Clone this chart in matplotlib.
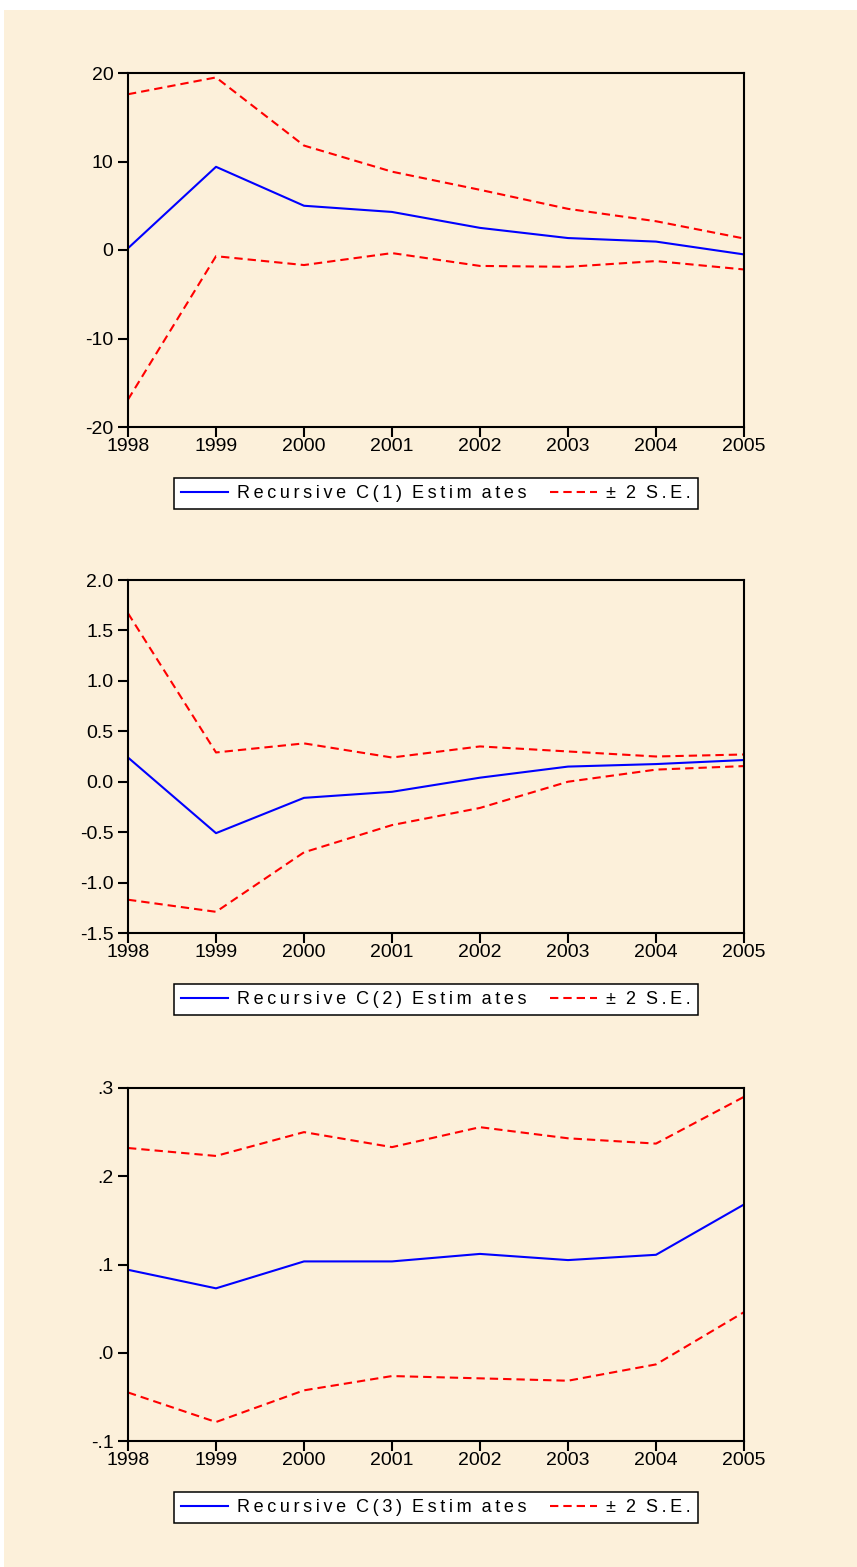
import matplotlib
matplotlib.use("Agg")
import matplotlib.pyplot as plt
from matplotlib.patches import Rectangle
from matplotlib.ticker import FixedLocator, FixedFormatter

years = [1998, 1999, 2000, 2001, 2002, 2003, 2004, 2005]

c1_est = [0.2, 9.4, 5.0, 4.3, 2.5, 1.35, 0.95, -0.5]
c1_up = [17.6, 19.5, 11.8, 8.85, 6.8, 4.65, 3.25, 1.3]
c1_lo = [-16.9, -0.7, -1.7, -0.35, -1.8, -1.9, -1.25, -2.2]

c2_est = [0.24, -0.51, -0.16, -0.10, 0.04, 0.15, 0.175, 0.215]
c2_up = [1.67, 0.29, 0.38, 0.24, 0.35, 0.30, 0.25, 0.27]
c2_lo = [-1.17, -1.29, -0.70, -0.43, -0.26, 0.0, 0.12, 0.155]

c3_est = [0.094, 0.073, 0.1035, 0.1035, 0.112, 0.105, 0.111, 0.168]
c3_up = [0.232, 0.223, 0.250, 0.233, 0.2556, 0.243, 0.237, 0.290]
c3_lo = [-0.045, -0.0785, -0.0426, -0.0264, -0.029, -0.0317, -0.0132, 0.046]

panels = [
    dict(est=c1_est, up=c1_up, lo=c1_lo, ylim=(-20, 20),
         yticks=[-20, -10, 0, 10, 20], ylabels=["-20", "-10", "0", "10", "20"],
         name="C(1)"),
    dict(est=c2_est, up=c2_up, lo=c2_lo, ylim=(-1.5, 2.0),
         yticks=[-1.5, -1.0, -0.5, 0.0, 0.5, 1.0, 1.5, 2.0],
         ylabels=["-1.5", "-1.0", "-0.5", "0.0", "0.5", "1.0", "1.5", "2.0"],
         name="C(2)"),
    dict(est=c3_est, up=c3_up, lo=c3_lo, ylim=(-0.1, 0.3),
         yticks=[-0.1, 0.0, 0.1, 0.2, 0.3], ylabels=["-.1", ".0", ".1", ".2", ".3"],
         name="C(3)"),
]

W, H = 857, 1567
fig = plt.figure(figsize=(W / 100, H / 100), dpi=100)
fig.patch.set_facecolor("white")
bg = "#FCF0DA"
fig.patches.append(Rectangle((4 / W, 0), 1 - 4 / W, 1 - 10 / H, transform=fig.transFigure,
                             facecolor=bg, edgecolor="none", zorder=-10))

plt.rcParams["font.family"] = ["Liberation Sans", "DejaVu Sans"]

left, right = 128, 744
tops = [73, 580, 1088]
bots = [427, 933, 1441]

TS = "\u2009"

def spaced(s):
    return TS.join(list(s))

for p, t, b in zip(panels, tops, bots):
    ax = fig.add_axes([left / W, 1 - b / H, (right - left) / W, (b - t) / H])
    ax.set_facecolor("none")
    ax.plot(years, p["est"], color="#0000FF", lw=1.5,
            label=spaced("Recursive") + "  " + spaced(p["name"]) + "  " + spaced("Estim") + "  " + spaced("ates"))
    ax.plot(years, p["up"], color="#FF0000", lw=1.5, dashes=(4, 2.4),
            label="\u00b1" + "  2  " + spaced("S.E."))
    ax.plot(years, p["lo"], color="#FF0000", lw=1.5, dashes=(4, 2.4))
    ax.set_xlim(1998, 2005)
    ax.set_ylim(*p["ylim"])
    ax.xaxis.set_major_locator(FixedLocator(years))
    ax.xaxis.set_major_formatter(FixedFormatter([str(y) for y in years]))
    ax.yaxis.set_major_locator(FixedLocator(p["yticks"]))
    ax.yaxis.set_major_formatter(FixedFormatter(p["ylabels"]))
    for s in ax.spines.values():
        s.set_linewidth(1.5)
        s.set_color("black")
    ax.tick_params(axis="both", direction="out", length=7, width=1.5, labelsize=14,
                   colors="black")
    ax.tick_params(axis="x", pad=1)
    ax.tick_params(axis="y", pad=3.5)
    leg = ax.legend(loc="upper center", bbox_to_anchor=(0.5, -51 / (b - t)), ncol=2,
                    frameon=True, fancybox=False, edgecolor="black", facecolor="white",
                    framealpha=1, fontsize=13, handlelength=2.6, handletextpad=0.5,
                    columnspacing=1.3, borderpad=0.4, borderaxespad=0)
    leg.get_frame().set_linewidth(1.1)

fig.savefig("out.png", dpi=100)
